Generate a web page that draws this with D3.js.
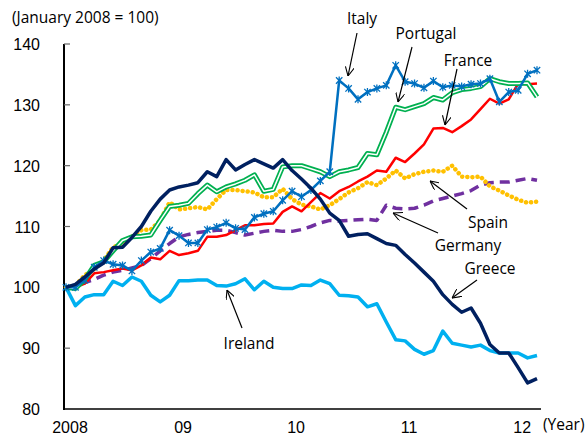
<!DOCTYPE html>
<html>
<head>
<meta charset="utf-8">
<script src="https://cdn.jsdelivr.net/npm/d3@7"></script>
<style>
  body { margin: 0; background: #fff; }
  svg { display: block; }
  .tick-label { font-family: "Liberation Sans", Arial, sans-serif; font-size: 16px; fill: #000; }
  .note { font-family: "Open Sans", sans-serif; font-size: 15.5px; fill: #000; }
</style>
</head>
<body>
<div id="chart"></div>
<script>
// Monthly index: 0 = Jan 2008 ... 50 = Mar 2012
const months = d3.range(51);

const yearTicks = [0, 12, 24, 36, 48];
const yearLabels = ["2008", "09", "10", "11", "12"];
const yTicks = [80, 90, 100, 110, 120, 130, 140];

const greece = [100, 100.5, 101.7, 103, 104, 106.5, 106.6, 108.2, 110, 112.5,
  114.5, 116, 116.5, 116.8, 117.2, 119, 118.2, 121, 119.3, 120.2,
  121, 120.3, 119.6, 121, 119.2, 117.8, 116.3, 114.5, 112.2, 111,
  108.4, 108.7, 108.8, 108, 107.2, 106.9, 105.4, 104, 102.5, 101,
  98.8, 97.2, 95.9, 96.6, 94.1, 90.6, 89.2, 89.2, 86.8, 84.3, 85];

const ireland = [100, 97, 98.4, 98.8, 98.8, 101, 100.3, 101.7, 101, 98.7,
  97.6, 98.7, 101.1, 101.1, 101.2, 101.2, 100.3, 100.2, 100.6, 101.4,
  99.6, 101, 100, 99.8, 99.8, 100.4, 100.3, 101.2, 100.6, 98.7,
  98.6, 98.4, 96.8, 97.3, 94.3, 91.4, 91.2, 89.8, 89, 89.6,
  92.8, 90.8, 90.5, 90.2, 90.5, 89.6, 89.2, 89.2, 89.2, 88.4, 88.8];

const italy = [100, 100, 101.2, 103.3, 104.4, 103.8, 103.6, 102.7, 104.4, 105.8,
  106.4, 109.4, 108.5, 107.3, 107.3, 109.5, 109.9, 110.6, 109.7, 109.5,
  111.5, 112.1, 112.5, 114.3, 115.8, 114.9, 116, 117.5, 119, 134,
  132.7, 130.9, 132.1, 132.7, 133.2, 136.5, 133.8, 133.5, 132.8, 133.9,
  132.9, 133.2, 133, 133.4, 133.5, 134.3, 130.5, 132.1, 132.4, 135.1, 135.7];

const portugal = [100, 99.8, 101.3, 103.6, 104.2, 106, 107.7, 108.3, 108.4, 108.6,
  111, 113.3, 113.5, 113.8, 115.4, 116.8, 115.7, 116.5, 117, 117.6,
  118.5, 115.8, 116.1, 119.8, 120, 120, 119.5, 119, 118.2, 119,
  119.3, 119.7, 122, 121.8, 125.5, 129.6, 129.2, 129.7, 130.2, 131.2,
  130.8, 132, 132.5, 132.7, 133, 134.3, 133.8, 133.5, 133.5, 133.6, 131.3];

const france = [100, 100, 100.6, 102.3, 102.5, 102.8, 103.1, 102.8, 103.6, 104.9,
  104.6, 106, 105.3, 105.6, 106, 108.3, 108.3, 108.6, 109.4, 110.2,
  110.2, 110.4, 110.5, 112.4, 113.3, 112.5, 114, 115.5, 114.6, 115.8,
  116.5, 117.4, 118.2, 119.2, 119, 121.3, 120.6, 122, 123.5, 126.1,
  126.2, 125.5, 126.5, 127.6, 129.3, 131, 130.2, 130.9, 133.5, 133.4, 133.5];

const spain = [100, 100.3, 102, 103, 104.4, 106.6, 107.2, 108.3, 109.4, 109.5,
  111, 114, 112.8, 113, 113.2, 112.8, 114.5, 116, 116, 115.8,
  115.6, 114.8, 114.8, 116.2, 114.5, 113.6, 113.3, 112.8, 113.5, 114.5,
  115.6, 116.3, 117.3, 116.8, 117.9, 119.2, 117.9, 118.6, 119, 119.2,
  119, 120, 118.2, 118.1, 118.2, 116.6, 115.9, 115.1, 114.4, 113.9, 114.1];

const germany = [100, 100.2, 100.8, 101.3, 102, 102.5, 102.8, 103.2, 103.6, 104.7,
  106, 107.2, 108.3, 108.7, 109, 109.2, 109.4, 109.4, 109, 108.6,
  108.9, 109.2, 109.4, 109.2, 109.2, 109.5, 110, 110.6, 111, 110.9,
  111, 111.1, 111.2, 111, 113.5, 113, 112.9, 113, 113.5, 114.2,
  114.6, 115, 115.4, 115.9, 116.8, 117.2, 117.3, 117.3, 117.6, 117.9, 117.6];

// Callout labels: text, label centre, arrow start, arrow tip
const notes = [
  { text: "Italy",    lx: 362, ly: 24,  x1: 357, y1: 33,  x2: 348, y2: 76 },
  { text: "Portugal", lx: 426, ly: 39,  x1: 412, y1: 47,  x2: 398, y2: 102 },
  { text: "France",   lx: 468, ly: 66,  x1: 457, y1: 69,  x2: 445, y2: 125 },
  { text: "Spain",    lx: 488, ly: 228, x1: 467, y1: 209, x2: 430, y2: 181 },
  { text: "Germany",  lx: 468, ly: 251, x1: 438, y1: 233, x2: 393, y2: 213 },
  { text: "Greece",   lx: 490, ly: 274, x1: 477, y1: 280, x2: 452, y2: 298 },
  { text: "Ireland",  lx: 249, ly: 349, x1: 242, y1: 328, x2: 227, y2: 290 }
];

const W = 588, H = 437;
const svg = d3.select("#chart").append("svg")
    .attr("width", W)
    .attr("height", H);

const x = d3.scaleLinear().domain([0, 50]).range([66, 537]);
const y = d3.scaleLinear().domain([80, 140]).range([409, 44]);

const defs = svg.append("defs");
defs.append("marker")
    .attr("id", "arrow")
    .attr("viewBox", "0 0 10 10")
    .attr("refX", 10).attr("refY", 5)
    .attr("markerWidth", 9).attr("markerHeight", 9)
    .attr("markerUnits", "userSpaceOnUse")
    .attr("orient", "auto")
    .append("path")
    .attr("d", "M0,0 L10,5 L0,10")
    .attr("fill", "none")
    .attr("stroke", "#000")
    .attr("stroke-width", 1.2);

// Axes
svg.append("line")
    .attr("x1", 64).attr("x2", 64)
    .attr("y1", y(140)).attr("y2", y(80) + 1)
    .attr("stroke", "#000").attr("stroke-width", 2);

svg.append("line")
    .attr("x1", 64).attr("x2", 541)
    .attr("y1", y(80)).attr("y2", y(80))
    .attr("stroke", "#000").attr("stroke-width", 1.5);

svg.selectAll(".ytick")
    .data(yTicks.filter(d => d > 80))
    .enter().append("line")
    .attr("class", "ytick")
    .attr("x1", 64).attr("x2", 70)
    .attr("y1", d => y(d)).attr("y2", d => y(d))
    .attr("stroke", "#666").attr("stroke-width", 1.2);

svg.selectAll(".ylab")
    .data(yTicks)
    .enter().append("text")
    .attr("class", "tick-label")
    .attr("x", 40)
    .attr("y", d => y(d) + 6)
    .attr("text-anchor", "end")
    .text(d => d);

svg.selectAll(".xlab")
    .data(yearTicks)
    .enter().append("text")
    .attr("class", "tick-label")
    .attr("x", d => x(d) + 4)
    .attr("y", 433)
    .attr("text-anchor", "middle")
    .text((d, i) => yearLabels[i]);

svg.append("text")
    .attr("class", "note")
    .attr("x", 543).attr("y", 430)
    .text("(Year)");

svg.append("text")
    .attr("class", "note")
    .attr("x", 12).attr("y", 23)
    .text("(January 2008 = 100)");

const line = d3.line()
    .x((d, i) => x(months[i]))
    .y(d => y(d));

function drawSeries(values, color, width, dash, cap) {
    svg.append("path")
        .datum(values)
        .attr("d", line)
        .attr("fill", "none")
        .attr("stroke", color)
        .attr("stroke-width", width)
        .attr("stroke-linejoin", "round")
        .attr("stroke-linecap", cap || "butt")
        .attr("stroke-dasharray", dash || null);
}

drawSeries(ireland, "#00B0F0", 3.5);
drawSeries(germany, "#7030A0", 3.5, "10 6");
drawSeries(spain, "#FFC000", 4.5, "0.1 5", "round");
drawSeries(france, "#FF0000", 2.5);

// Portugal: double line
drawSeries(portugal, "#00B050", 5);
drawSeries(portugal, "#ffffff", 1.5);

// Italy: line with star markers
drawSeries(italy, "#0070C0", 2.5);
const star = "M0,-4V4M-3.2,-3.2L3.2,3.2M-3.2,3.2L3.2,-3.2";
svg.selectAll(".italy-mark")
    .data(italy)
    .enter().append("path")
    .attr("class", "italy-mark")
    .attr("transform", (d, i) => `translate(${x(months[i])},${y(d)})`)
    .attr("d", star)
    .attr("fill", "none")
    .attr("stroke", "#0070C0")
    .attr("stroke-width", 1.3);

drawSeries(greece, "#002060", 3.5);

// Callouts
svg.selectAll(".arrow")
    .data(notes)
    .enter().append("line")
    .attr("x1", d => d.x1).attr("y1", d => d.y1)
    .attr("x2", d => d.x2).attr("y2", d => d.y2)
    .attr("stroke", "#000")
    .attr("stroke-width", 1.2)
    .attr("marker-end", "url(#arrow)");

svg.selectAll(".note-label")
    .data(notes)
    .enter().append("text")
    .attr("class", "note")
    .attr("x", d => d.lx)
    .attr("y", d => d.ly)
    .attr("text-anchor", "middle")
    .text(d => d.text);
</script>
</body>
</html>
